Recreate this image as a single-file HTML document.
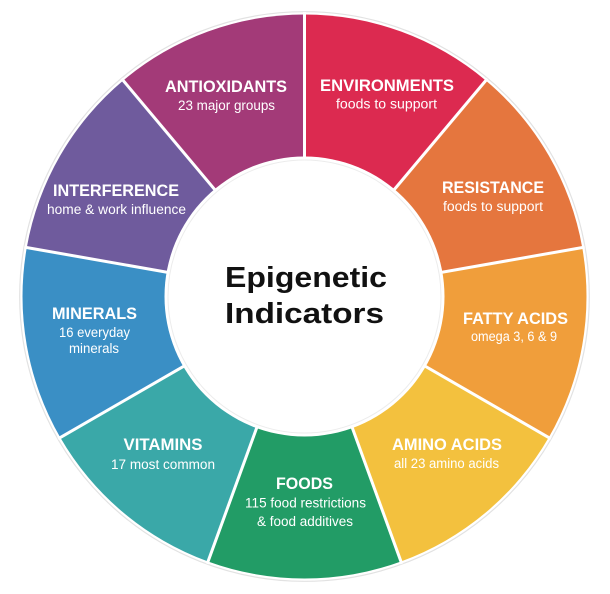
<!DOCTYPE html>
<html>
<head>
<meta charset="utf-8">
<style>
  html, body { margin: 0; padding: 0; background: #ffffff; }
  svg { display: block; }
  .t { font-family: "Liberation Sans", sans-serif; font-weight: bold; font-size: 16.5px; fill: #ffffff; }
  .s { font-family: "Liberation Sans", sans-serif; font-size: 13.5px; fill: #ffffff; }
  .c { font-family: "Liberation Sans", sans-serif; font-weight: bold; font-size: 29px; fill: #111111; }
</style>
</head>
<body>
<svg width="610" height="594" viewBox="0 0 610 594" xmlns="http://www.w3.org/2000/svg">
  <!-- faint outer edge -->
  <circle cx="304.5" cy="296.5" r="284.8" fill="none" stroke="#e2e2e2" stroke-width="1.2"/>

  <!-- wedges -->
  <path d="M304.5 296.5 L304.5 14.5 A282 282 0 0 1 485.77 80.49 Z" fill="#DC2A50"/>
  <path d="M304.5 296.5 L485.77 80.49 A282 282 0 0 1 582.21 247.54 Z" fill="#E5763E"/>
  <path d="M304.5 296.5 L582.21 247.54 A282 282 0 0 1 548.71 437.5 Z" fill="#F09E3B"/>
  <path d="M304.5 296.5 L548.71 437.5 A282 282 0 0 1 400.94 561.49 Z" fill="#F3C13E"/>
  <path d="M304.5 296.5 L400.94 561.49 A282 282 0 0 1 208.06 561.49 Z" fill="#229C66"/>
  <path d="M304.5 296.5 L208.06 561.49 A282 282 0 0 1 60.29 437.5 Z" fill="#3AA8A8"/>
  <path d="M304.5 296.5 L60.29 437.5 A282 282 0 0 1 26.79 247.54 Z" fill="#3A8FC5"/>
  <path d="M304.5 296.5 L26.79 247.54 A282 282 0 0 1 123.23 80.49 Z" fill="#6F5B9D"/>
  <path d="M304.5 296.5 L123.23 80.49 A282 282 0 0 1 304.5 14.5 Z" fill="#A33A78"/>

  <!-- separators -->
  <g stroke="#ffffff" stroke-width="3">
    <line x1="304.5" y1="296.5" x2="304.5" y2="12"/>
    <line x1="304.5" y1="296.5" x2="487.4" y2="78.6"/>
    <line x1="304.5" y1="296.5" x2="584.7" y2="247.1"/>
    <line x1="304.5" y1="296.5" x2="550.9" y2="438.8"/>
    <line x1="304.5" y1="296.5" x2="401.8" y2="563.8"/>
    <line x1="304.5" y1="296.5" x2="207.2" y2="563.8"/>
    <line x1="304.5" y1="296.5" x2="58.1" y2="438.8"/>
    <line x1="304.5" y1="296.5" x2="24.3" y2="247.1"/>
    <line x1="304.5" y1="296.5" x2="121.6" y2="78.6"/>
  </g>

  <!-- inner white circle -->
  <circle cx="304.5" cy="296.5" r="140" fill="#ffffff"/>
  <circle cx="304.5" cy="296.5" r="136.5" fill="none" stroke="#ececec" stroke-width="1"/>

  <!-- center title -->
  <text class="c" x="306" y="287" text-anchor="middle" textLength="162" lengthAdjust="spacingAndGlyphs">Epigenetic</text>
  <text class="c" x="304.5" y="323" text-anchor="middle" textLength="159" lengthAdjust="spacingAndGlyphs">Indicators</text>

  <!-- labels -->
  <text class="t" x="226" y="92" text-anchor="middle" textLength="122" lengthAdjust="spacingAndGlyphs">ANTIOXIDANTS</text>
  <text class="s" x="226.5" y="110" text-anchor="middle" textLength="97" lengthAdjust="spacingAndGlyphs">23 major groups</text>

  <text class="t" x="387" y="91" text-anchor="middle" textLength="134" lengthAdjust="spacingAndGlyphs">ENVIRONMENTS</text>
  <text class="s" x="386.5" y="108.5" text-anchor="middle" textLength="101" lengthAdjust="spacingAndGlyphs">foods to support</text>

  <text class="t" x="116" y="196" text-anchor="middle" textLength="126" lengthAdjust="spacingAndGlyphs">INTERFERENCE</text>
  <text class="s" x="116.5" y="214" text-anchor="middle" textLength="139" lengthAdjust="spacingAndGlyphs">home &amp; work influence</text>

  <text class="t" x="493" y="193" text-anchor="middle" textLength="102" lengthAdjust="spacingAndGlyphs">RESISTANCE</text>
  <text class="s" x="493" y="211" text-anchor="middle" textLength="100" lengthAdjust="spacingAndGlyphs">foods to support</text>

  <text class="t" x="94.5" y="319" text-anchor="middle" textLength="85" lengthAdjust="spacingAndGlyphs">MINERALS</text>
  <text class="s" x="94.5" y="337" text-anchor="middle" textLength="71" lengthAdjust="spacingAndGlyphs">16 everyday</text>
  <text class="s" x="94" y="353" text-anchor="middle" textLength="50" lengthAdjust="spacingAndGlyphs">minerals</text>

  <text class="t" x="515.5" y="324" text-anchor="middle" textLength="105" lengthAdjust="spacingAndGlyphs">FATTY ACIDS</text>
  <text class="s" x="514" y="341" text-anchor="middle" textLength="86" lengthAdjust="spacingAndGlyphs">omega 3, 6 &amp; 9</text>

  <text class="t" x="163" y="450" text-anchor="middle" textLength="79" lengthAdjust="spacingAndGlyphs">VITAMINS</text>
  <text class="s" x="163" y="469" text-anchor="middle" textLength="104" lengthAdjust="spacingAndGlyphs">17 most common</text>

  <text class="t" x="447" y="450" text-anchor="middle" textLength="110" lengthAdjust="spacingAndGlyphs">AMINO ACIDS</text>
  <text class="s" x="446.5" y="468" text-anchor="middle" textLength="105" lengthAdjust="spacingAndGlyphs">all 23 amino acids</text>

  <text class="t" x="304.5" y="489" text-anchor="middle" textLength="57" lengthAdjust="spacingAndGlyphs">FOODS</text>
  <text class="s" x="305.5" y="507.5" text-anchor="middle" textLength="121" lengthAdjust="spacingAndGlyphs">115 food restrictions</text>
  <text class="s" x="305" y="526" text-anchor="middle" textLength="96" lengthAdjust="spacingAndGlyphs">&amp; food additives</text>
</svg>
</body>
</html>
